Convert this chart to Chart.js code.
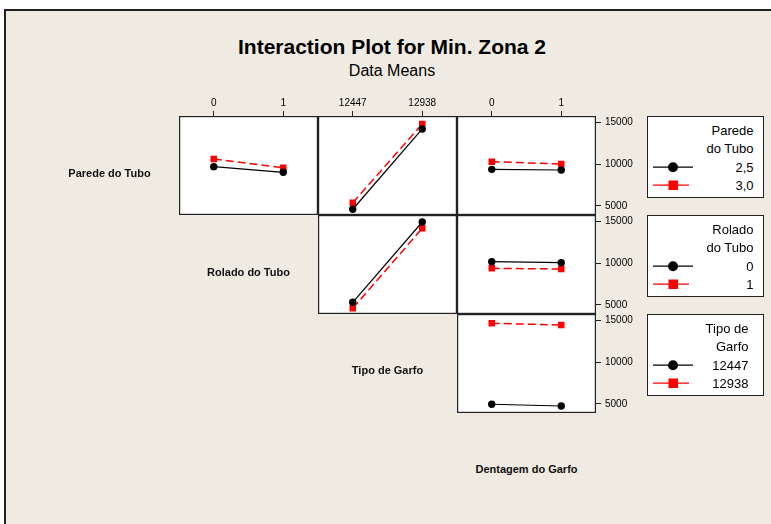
<!DOCTYPE html>
<html>
<head>
<meta charset="utf-8">
<script src="https://cdn.jsdelivr.net/npm/chart.js@4.4.0/dist/chart.umd.min.js"></script>
<style>
  body {
    margin: 0;
    width: 771px;
    height: 524px;
    overflow: hidden;
    position: relative;
    background: #fff;
    font-family: "Liberation Sans", Arial, sans-serif;
    color: #000;
  }
  #frame {
    position: absolute;
    left: 4px;
    top: 9px;
    width: 800px;
    height: 540px;
    background: #efebe2;
    border-left: 2px solid #222;
    border-top: 2px solid #222;
  }
  #title {
    position: absolute;
    left: 0;
    width: 784px;
    top: 35px;
    line-height: 24px;
    text-align: center;
    font-weight: bold;
    font-size: 21px;
  }
  #subtitle {
    position: absolute;
    left: 0;
    width: 784px;
    top: 61px;
    line-height: 20px;
    text-align: center;
    font-size: 16px;
  }
  .factor {
    position: absolute;
    width: 200px;
    line-height: 14px;
    text-align: center;
    font-weight: bold;
    font-size: 11px;
    color: #111;
  }
  .legend {
    position: absolute;
    left: 647px;
    width: 117px;
    height: 82px;
    box-sizing: border-box;
    background: #fff;
    border: 1.5px solid #222;
    font-size: 13px;
  }
  .legend div {
    position: absolute;
    left: 0;
    line-height: 16px;
    text-align: right;
  }
  .legend svg {
    position: absolute;
    left: 5px;
  }
</style>
</head>
<body>
<div id="frame"></div>
<div id="title">Interaction Plot for Min. Zona 2</div>
<div id="subtitle">Data Means</div>

<script>
"use strict";

const factorNames = ["Parede do Tubo", "Rolado do Tubo", "Tipo de Garfo", "Dentagem do Garfo"];
const paredeLevels = ["2,5", "3,0"];
const roladoLevels = ["0", "1"];
const garfoLevels = ["12447", "12938"];
const dentagemLevels = ["0", "1"];
const yTicks = [5000, 10000, 15000];
const yMin = 3900;
const yMax = 15800;

// means, one row per level of the trace factor
const paredeByRolado = [[9710, 9030], [10630, 9590]];
const paredeByGarfo = [[4590, 14240], [5380, 14840]];
const paredeByDentagem = [[9390, 9310], [10310, 10030]];
const roladoByGarfo = [[5310, 14960], [4590, 14200]];
const roladoByDentagem = [[10190, 10070], [9390, 9310]];
const garfoByDentagem = [[4950, 4740], [14680, 14480]];

const legendTitles = [["Parede", "do Tubo"], ["Rolado", "do Tubo"], ["Tipo de", "Garfo"]];
const legendLevels = [paredeLevels, roladoLevels, garfoLevels];

// GRID GEOMETRY
const GRID_LEFT = 179;
const GRID_TOP = 116;
const PANEL_W = 139;
const PANEL_H = 99;
const AXIS_H = 24;
const AXIS_W = 60;
const FONT = '"Liberation Sans", Arial, sans-serif';

const panels = [
  { row: 0, col: 0, x: roladoLevels, values: paredeByRolado },
  { row: 0, col: 1, x: garfoLevels, values: paredeByGarfo },
  { row: 0, col: 2, x: dentagemLevels, values: paredeByDentagem },
  { row: 1, col: 1, x: garfoLevels, values: roladoByGarfo },
  { row: 1, col: 2, x: dentagemLevels, values: roladoByDentagem },
  { row: 2, col: 2, x: dentagemLevels, values: garfoByDentagem },
];

// box round each panel's plot area
const panelBox = {
  id: "panelBox",
  afterDraw(chart) {
    const a = chart.chartArea;
    const ctx = chart.ctx;
    ctx.save();
    ctx.strokeStyle = "#222";
    ctx.lineWidth = 1.2;
    ctx.strokeRect(a.left + 0.6, a.top + 0.6, a.width - 1.2, a.height - 1.2);
    ctx.restore();
  },
};

const tickGrid = {
  display: true,
  drawOnChartArea: false,
  drawTicks: true,
  tickLength: 5,
  color: "#222",
  offset: false,
};

// fixed axis size, no extra room for the end labels
function fixSize(s, w, h) {
  s.width = w;
  s.height = h;
  s.paddingTop = 0;
  s.paddingBottom = 0;
  s.paddingLeft = 0;
  s.paddingRight = 0;
}

function makePanel(p) {
  const topAxis = p.row === 0;
  const rightAxis = p.col === 2;
  const w = PANEL_W + (rightAxis ? AXIS_W : 0);
  const h = PANEL_H + (topAxis ? AXIS_H : 0);
  const left = GRID_LEFT + p.col * PANEL_W;
  const top = GRID_TOP + p.row * PANEL_H;

  // white plot area under the canvas
  const bg = document.createElement("div");
  bg.style.cssText = `position:absolute;background:#fff;left:${left}px;top:${top}px;width:${PANEL_W}px;height:${PANEL_H}px`;
  document.body.appendChild(bg);

  const canvas = document.createElement("canvas");
  canvas.width = w;
  canvas.height = h;
  canvas.style.position = "absolute";
  canvas.style.left = left + "px";
  canvas.style.top = top - (topAxis ? AXIS_H : 0) + "px";
  document.body.appendChild(canvas);

  new Chart(canvas.getContext("2d"), {
    type: "line",
    data: {
      labels: p.x,
      datasets: [
        {
          data: p.values[0],
          borderColor: "#000",
          backgroundColor: "#000",
          borderWidth: 1.2,
          pointStyle: "circle",
          pointRadius: 3.7,
          pointBorderWidth: 0,
        },
        {
          data: p.values[1],
          borderColor: "#ff0000",
          backgroundColor: "#ff0000",
          borderWidth: 1.5,
          borderDash: [8, 4],
          pointStyle: "rect",
          pointRadius: 4.6,
          pointBorderWidth: 0,
        },
      ],
    },
    options: {
      responsive: false,
      animation: false,
      events: [],
      layout: { padding: 0, autoPadding: false },
      plugins: { legend: { display: false }, tooltip: { enabled: false } },
      scales: {
        x: {
          type: "category",
          position: "top",
          offset: true,
          display: topAxis,
          afterFit: (s) => fixSize(s, s.width, topAxis ? AXIS_H : 0),
          grid: tickGrid,
          border: { display: false },
          ticks: {
            color: "#000",
            font: { family: FONT, size: 10 },
            padding: 2,
            maxRotation: 0,
            autoSkip: false,
          },
        },
        y: {
          type: "linear",
          position: "right",
          min: yMin,
          max: yMax,
          display: rightAxis,
          afterFit: (s) => fixSize(s, rightAxis ? AXIS_W : 0, s.height),
          afterBuildTicks: (s) => { s.ticks = yTicks.map((v) => ({ value: v })); },
          grid: tickGrid,
          border: { display: false },
          ticks: {
            color: "#000",
            font: { family: FONT, size: 10 },
            padding: 4,
            callback: (v) => String(v),
          },
        },
      },
    },
    plugins: [panelBox],
  });
}

panels.forEach(makePanel);

// FACTOR NAMES ON THE DIAGONAL
factorNames.forEach((name, i) => {
  const el = document.createElement("div");
  el.className = "factor";
  el.textContent = name;
  el.style.left = GRID_LEFT - PANEL_W / 2 + i * PANEL_W - 100 + "px";
  el.style.top = 173 + i * 98.5 - 7 + "px";
  document.body.appendChild(el);
});

// LEGENDS
function symbolSvg(color, square) {
  const mark = square
    ? `<rect x="15.5" y="1.5" width="9.5" height="9.5" fill="${color}"/>`
    : `<circle cx="20" cy="6.2" r="5" fill="${color}"/>`;
  const end = square ? 36 : 40;
  return `<svg width="42" height="13"><line x1="0" y1="6.2" x2="${end}" y2="6.2" stroke="${color}" stroke-width="1.3"/>${mark}</svg>`;
}

legendTitles.forEach((title, i) => {
  const box = document.createElement("div");
  box.className = "legend";
  box.style.top = GRID_TOP + i * PANEL_H + "px";
  const rightPad = i === 2 ? 15 : 10;

  const rows = [
    { text: title[0], y: 15 },
    { text: title[1], y: 33 },
    { text: legendLevels[i][0], y: 52, sym: symbolSvg("#000", false) },
    { text: legendLevels[i][1], y: 70, sym: symbolSvg("#ff0000", true) },
  ];
  rows.forEach((r) => {
    const t = document.createElement("div");
    t.textContent = r.text;
    t.style.top = r.y - 1.5 - 8 + "px";
    t.style.width = 117 - 1.5 - rightPad + "px";
    box.appendChild(t);
    if (r.sym) {
      const s = document.createElement("span");
      s.innerHTML = r.sym;
      box.appendChild(s);
      s.firstChild.style.top = r.y - 1.5 - 6.2 + "px";
    }
  });
  document.body.appendChild(box);
});
</script>
</body>
</html>
